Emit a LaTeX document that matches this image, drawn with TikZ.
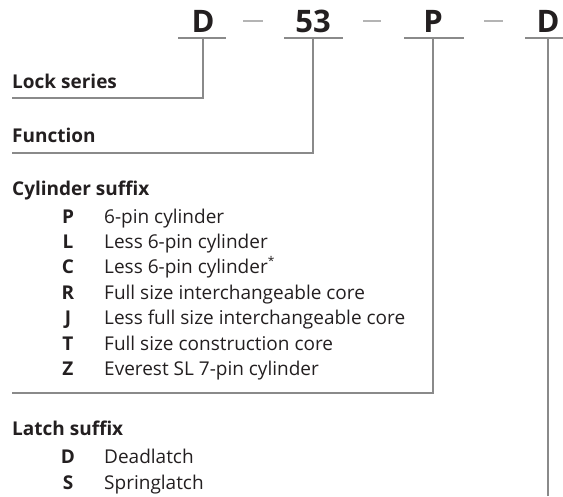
\documentclass[tikz,border=0pt]{standalone}
\usepackage{fontspec}
\setmainfont{Open Sans}
\definecolor{ink}{HTML}{231F20}
\definecolor{rule}{HTML}{8A8A8A}
\definecolor{dashc}{HTML}{B4B4B4}
\begin{document}
\begin{tikzpicture}[x=1pt,y=-1pt,
  code/.style={inner sep=0pt,anchor=base,font=\fontsize{31}{31}\selectfont\bfseries,text=ink},
  head/.style={inner sep=0pt,anchor=base west,font=\fontsize{19}{22}\selectfont\bfseries,text=ink},
  letter/.style={inner sep=0pt,anchor=base,font=\fontsize{19}{22}\selectfont\bfseries,text=ink},
  desc/.style={inner sep=0pt,anchor=base west,font=\fontsize{19}{22}\selectfont,text=ink},
  conn/.style={draw=rule,line width=1.3pt},
  sep/.style={draw=dashc,line width=1.3pt}]
\useasboundingbox (0,0) rectangle (563,496);
% top code
\node[code] (c1) at (203,32) {D};
\node[code] (c2) at (313,32) {53};
\node[code] (c3) at (433,32) {P};
\node[code] (c4) at (548,32) {D};
\coordinate (d1a) at (243,21); \coordinate (d1b) at (263,21);
\coordinate (d2a) at (363,21); \coordinate (d2b) at (381,21);
\coordinate (d3a) at (484,21); \coordinate (d3b) at (503,21);
\draw[sep] (d1a) -- (d1b);
\draw[sep] (d2a) -- (d2b);
\draw[sep] (d3a) -- (d3b);
% underlines
\coordinate (u1a) at (178,38); \coordinate (u1b) at (226,38);
\coordinate (u2a) at (284,38); \coordinate (u2b) at (343,38);
\coordinate (u3a) at (404,38); \coordinate (u3b) at (464,38);
\coordinate (u4a) at (525,38); \coordinate (u4b) at (563,38);
\draw[conn] (u1a) -- (u1b);
\draw[conn] (u2a) -- (u2b);
\draw[conn] (u3a) -- (u3b);
\draw[conn] (u4a) -- (u4b);
% headings
\node[head] (h1) at (12,88) {Lock series};
\node[head] (h2) at (12,142) {Function};
\node[head] (h3) at (12,195) {Cylinder suffix};
\node[head] (h4) at (12,435) {Latch suffix};
% cylinder items
\node[letter] (kP) at (68,223) {P}; \node[desc] (tP) at (104,223) {6-pin cylinder};
\node[letter] (kL) at (68,248) {L}; \node[desc] (tL) at (104,248) {Less 6-pin cylinder};
\node[letter] (kC) at (68,273) {C}; \node[desc] (tC) at (104,273) {Less 6-pin cylinder\raisebox{0.42em}{\fontsize{12}{12}\selectfont *}};
\node[letter] (kR) at (68,299) {R}; \node[desc] (tR) at (104,299) {Full size interchangeable core};
\node[letter] (kJ) at (68,324) {J}; \node[desc] (tJ) at (104,324) {Less full size interchangeable core};
\node[letter] (kT) at (68,350) {T}; \node[desc] (tT) at (104,350) {Full size construction core};
\node[letter] (kZ) at (68,375) {Z}; \node[desc] (tZ) at (104,375) {Everest SL 7-pin cylinder};
% latch items
\node[letter] (kD) at (68,463) {D}; \node[desc] (tD) at (104,463) {Deadlatch};
\node[letter] (kS) at (68,489) {S}; \node[desc] (tS) at (104,489) {Springlatch};
% connectors
\coordinate (e1) at (12,98);
\coordinate (e2) at (12,153);
\coordinate (e3) at (12,393);
\coordinate (e4) at (548,496);
\draw[conn] (e1) -| (u1a-|c1);
\draw[conn] (e2) -| (u2a-|c2);
\draw[conn] (e3) -| (u3a-|c3);
\draw[conn] (e4) -- (u4a-|c4);
\end{tikzpicture}
\end{document}
